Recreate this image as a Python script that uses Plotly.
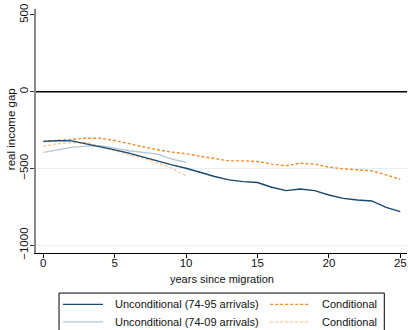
import plotly.graph_objects as go

# Years since migration
years_95 = list(range(0, 26))
years_09 = list(range(0, 11))

# Real income gap, 1974-95 arrival cohorts
uncond_95 = [-323, -319, -320, -338, -356, -378, -400, -425, -454, -476, -498,
             -526, -552, -574, -585, -591, -622, -644, -633, -644, -672, -694,
             -705, -711, -753, -781]
cond_95 = [-323, -317, -308, -303, -303, -317, -338, -360, -378, -393, -404,
           -420, -436, -450, -450, -454, -471, -482, -465, -471, -491, -502,
           -508, -515, -541, -570]

# Real income gap, 1974-09 arrival cohorts
uncond_09 = [-395, -378, -362, -354, -352, -367, -384, -395, -406, -439, -459]
cond_09 = [-356, -338, -332, -332, -356, -384, -410, -432, -465, -498, -548]

x_ticks = [0, 5, 10, 15, 20, 25]
y_ticks = [-1000, -500, 0, 500]
grid_vals = [-1000, -500]

legend_labels = ["Unconditional (74-95 arrivals)", "Conditional",
                 "Unconditional (74-09 arrivals)", "Conditional"]

DARK = "#1a476f"
LIGHT = "#b4c6d6"
ORANGE = "#f28c28"
LORANGE = "#fcc99a"
DASH = "3px,2px"

W, H = 408, 330
L, R, T, B = 36, 406.7, 9, 252.7


def px(x):
    return (x - L) / (R - L)


def py(y):
    return (B - y) / (B - T)


fig = go.Figure()
fig.add_trace(go.Scatter(x=years_09, y=cond_09, mode="lines",
                         line=dict(color=LORANGE, width=1.4, dash=DASH)))
fig.add_trace(go.Scatter(x=years_09, y=uncond_09, mode="lines",
                         line=dict(color=LIGHT, width=1.4)))
fig.add_trace(go.Scatter(x=years_95, y=cond_95, mode="lines",
                         line=dict(color=ORANGE, width=1.4, dash=DASH)))
fig.add_trace(go.Scatter(x=years_95, y=uncond_95, mode="lines",
                         line=dict(color=DARK, width=1.4)))

shapes = []
for g in grid_vals:
    shapes.append(dict(type="line", xref="paper", yref="y", x0=0, x1=1,
                       y0=g, y1=g, line=dict(color="#e6eff3", width=1),
                       layer="below"))
# zero reference line
shapes.append(dict(type="line", xref="paper", yref="y", x0=0, x1=1,
                   y0=0, y1=0, line=dict(color="black", width=1.3)))

# legend box
shapes.append(dict(type="rect", xref="paper", yref="paper",
                   x0=px(59), x1=px(384), y0=py(336), y1=py(292.7),
                   line=dict(color="black", width=1), fillcolor="white"))

annotations = []
leg_styles = [(DARK, None), (ORANGE, DASH), (LIGHT, None), (LORANGE, DASH)]
leg_pos = [(63, 304), (270, 304), (63, 321.5), (270, 321.5)]
for (color, dash), (lx, ly), text in zip(leg_styles, leg_pos, legend_labels):
    line = dict(color=color, width=1.4)
    if dash:
        line["dash"] = dash
    shapes.append(dict(type="line", xref="paper", yref="paper",
                       x0=px(lx), x1=px(lx + 40), y0=py(ly), y1=py(ly),
                       line=line))
    annotations.append(dict(xref="paper", yref="paper", x=px(lx + 50),
                            y=py(ly), text=text, showarrow=False,
                            xanchor="left", yanchor="middle",
                            font=dict(size=11, color="#111")))

# axis titles
annotations.append(dict(xref="paper", yref="paper", x=px(222), y=py(279),
                        text="years since migration", showarrow=False,
                        xanchor="center", yanchor="middle",
                        font=dict(size=11, color="#111")))
annotations.append(dict(xref="paper", yref="paper", x=px(11), y=py(129),
                        text="real income gap", showarrow=False, textangle=-90,
                        xanchor="center", yanchor="middle",
                        font=dict(size=11.5, color="#111")))

fig.update_layout(
    width=W, height=H,
    margin=dict(l=L, r=W - R, t=T, b=H - B),
    paper_bgcolor="white", plot_bgcolor="white",
    showlegend=False,
    font=dict(family="Liberation Sans, Arial, sans-serif", size=11, color="#111"),
    shapes=shapes, annotations=annotations,
    xaxis=dict(range=[-0.51, 25.47], tickvals=x_ticks, showgrid=False,
               zeroline=False, showline=True, linecolor="black", linewidth=1.3,
               ticks="outside", ticklen=4, tickcolor="black", tickwidth=1,
               ticklabelstandoff=-5,
               tickfont=dict(size=11.5), fixedrange=True),
    yaxis=dict(range=[-1050, 539], tickvals=y_ticks, showgrid=False,
               zeroline=False, showline=True, linecolor="#888", linewidth=1.8,
               ticks="outside", ticklen=4, tickcolor="#333", tickwidth=1,
               ticklabelstandoff=-2,
               tickangle=-90, tickfont=dict(size=11.5), fixedrange=True),
)

fig.write_html("out.html", config={"displayModeBar": False})
